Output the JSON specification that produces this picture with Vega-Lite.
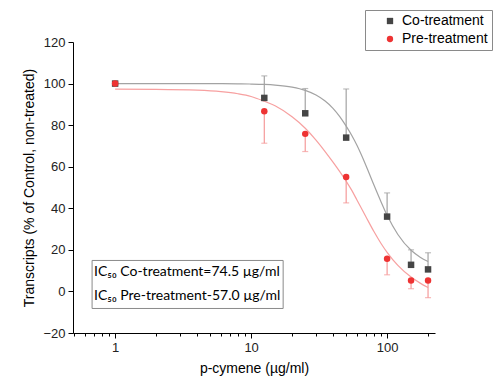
{
  "$schema": "https://vega.github.io/schema/vega-lite/v6.json",
  "width": 362,
  "height": 291,
  "autosize": {"type": "none"},
  "padding": {"left": 73, "top": 42, "right": 66, "bottom": 52},
  "background": "white",
  "config": {
    "view": {"stroke": null},
    "font": "Liberation Sans",
    "axis": {
      "domainColor": "#000000",
      "domainWidth": 1,
      "tickColor": "#000000",
      "tickWidth": 1,
      "grid": false,
      "labelFont": "Liberation Sans",
      "labelFontSize": 13,
      "labelColor": "#222222",
      "titleFont": "Liberation Sans",
      "titleFontSize": 14,
      "titleFontWeight": "normal",
      "titleColor": "#000000"
    }
  },
  "datasets": {
    "fit": [
      {"group": "Co-treatment", "dose": 1, "fit": 100.0},
      {"group": "Co-treatment", "dose": 2, "fit": 100.0},
      {"group": "Co-treatment", "dose": 4, "fit": 99.99},
      {"group": "Co-treatment", "dose": 6, "fit": 99.95},
      {"group": "Co-treatment", "dose": 8, "fit": 99.89},
      {"group": "Co-treatment", "dose": 10, "fit": 99.78},
      {"group": "Co-treatment", "dose": 12.5, "fit": 99.58},
      {"group": "Co-treatment", "dose": 15, "fit": 99.27},
      {"group": "Co-treatment", "dose": 20, "fit": 98.29},
      {"group": "Co-treatment", "dose": 25, "fit": 96.72},
      {"group": "Co-treatment", "dose": 30, "fit": 94.48},
      {"group": "Co-treatment", "dose": 35, "fit": 91.6},
      {"group": "Co-treatment", "dose": 40, "fit": 88.1},
      {"group": "Co-treatment", "dose": 45, "fit": 84.0},
      {"group": "Co-treatment", "dose": 50, "fit": 79.5},
      {"group": "Co-treatment", "dose": 55, "fit": 75.0},
      {"group": "Co-treatment", "dose": 60, "fit": 70.3},
      {"group": "Co-treatment", "dose": 70, "fit": 60.5},
      {"group": "Co-treatment", "dose": 80, "fit": 51.2},
      {"group": "Co-treatment", "dose": 90, "fit": 43.3},
      {"group": "Co-treatment", "dose": 100, "fit": 36.6},
      {"group": "Co-treatment", "dose": 120, "fit": 27.4},
      {"group": "Co-treatment", "dose": 150, "fit": 19.8},
      {"group": "Co-treatment", "dose": 175, "fit": 16.5},
      {"group": "Co-treatment", "dose": 200, "fit": 14.4},
      {"group": "Pre-treatment", "dose": 1, "fit": 97.3},
      {"group": "Pre-treatment", "dose": 2, "fit": 97.2},
      {"group": "Pre-treatment", "dose": 4, "fit": 96.8},
      {"group": "Pre-treatment", "dose": 6, "fit": 96.1},
      {"group": "Pre-treatment", "dose": 8, "fit": 95.1},
      {"group": "Pre-treatment", "dose": 10, "fit": 93.8},
      {"group": "Pre-treatment", "dose": 12.5, "fit": 91.5},
      {"group": "Pre-treatment", "dose": 15, "fit": 89.3},
      {"group": "Pre-treatment", "dose": 20, "fit": 84.0},
      {"group": "Pre-treatment", "dose": 25, "fit": 78.5},
      {"group": "Pre-treatment", "dose": 30, "fit": 72.8},
      {"group": "Pre-treatment", "dose": 35, "fit": 67.3},
      {"group": "Pre-treatment", "dose": 40, "fit": 62.2},
      {"group": "Pre-treatment", "dose": 45, "fit": 57.5},
      {"group": "Pre-treatment", "dose": 50, "fit": 53.0},
      {"group": "Pre-treatment", "dose": 55, "fit": 48.6},
      {"group": "Pre-treatment", "dose": 60, "fit": 44.0},
      {"group": "Pre-treatment", "dose": 70, "fit": 35.8},
      {"group": "Pre-treatment", "dose": 80, "fit": 28.8},
      {"group": "Pre-treatment", "dose": 90, "fit": 23.2},
      {"group": "Pre-treatment", "dose": 100, "fit": 18.8},
      {"group": "Pre-treatment", "dose": 120, "fit": 12.5},
      {"group": "Pre-treatment", "dose": 150, "fit": 6.9},
      {"group": "Pre-treatment", "dose": 175, "fit": 4.0},
      {"group": "Pre-treatment", "dose": 200, "fit": 1.9}
    ],
    "obs": [
      {"group": "Co-treatment", "dose": 1, "mean": 100.0, "err_end": null},
      {"group": "Co-treatment", "dose": 12.5, "mean": 93.1, "err_end": 103.7},
      {"group": "Co-treatment", "dose": 25, "mean": 85.7, "err_end": 97.6},
      {"group": "Co-treatment", "dose": 50, "mean": 74.0, "err_end": 97.4},
      {"group": "Co-treatment", "dose": 100, "mean": 36.0, "err_end": 47.4},
      {"group": "Co-treatment", "dose": 150, "mean": 12.8, "err_end": 20.0},
      {"group": "Co-treatment", "dose": 200, "mean": 10.6, "err_end": 18.6},
      {"group": "Pre-treatment", "dose": 1, "mean": 100.0, "err_end": null},
      {"group": "Pre-treatment", "dose": 12.5, "mean": 86.7, "err_end": 71.3},
      {"group": "Pre-treatment", "dose": 25, "mean": 75.8, "err_end": 67.3},
      {"group": "Pre-treatment", "dose": 50, "mean": 55.1, "err_end": 42.6},
      {"group": "Pre-treatment", "dose": 100, "mean": 15.7, "err_end": 8.0},
      {"group": "Pre-treatment", "dose": 150, "mean": 5.3, "err_end": 1.3},
      {"group": "Pre-treatment", "dose": 200, "mean": 5.3, "err_end": -3.0}
    ]
  },
  "layer": [
    {
      "data": {"name": "fit"},
      "mark": {"type": "line", "strokeWidth": 1.2, "interpolate": "monotone"},
      "encoding": {
        "x": {
          "field": "dose", "type": "quantitative",
          "scale": {"type": "log", "domain": [0.49, 225], "nice": false},
          "axis": {
            "title": "p-cymene (µg/ml)",
            "values": [0.5, 0.6, 0.7, 0.8, 0.9, 1, 2, 3, 4, 5, 6, 7, 8, 9, 10, 20, 30, 40, 50, 60, 70, 80, 90, 100, 200],
            "format": "~g",
            "labelExpr": "datum.value == 1 || datum.value == 10 || datum.value == 100 ? datum.label : ''",
            "labelOverlap": false,
            "labelFlush": false,
            "labelPadding": 3,
            "titlePadding": 7,
            "tickSize": {"condition": {"test": "datum.value == 1 || datum.value == 10 || datum.value == 100", "value": 5}, "value": 3}
          }
        },
        "y": {
          "field": "fit", "type": "quantitative",
          "scale": {"domain": [-20, 120], "nice": false, "zero": false},
          "axis": {
            "title": "Transcripts (% of Control, non-treated)",
            "values": [-20, -10, 0, 10, 20, 30, 40, 50, 60, 70, 80, 90, 100, 110, 120],
            "labelExpr": "datum.value % 20 == 0 ? datum.label : ''",
            "labelOverlap": false,
            "labelFlush": false,
            "labelPadding": 3,
            "titlePadding": 6,
            "tickSize": {"condition": {"test": "datum.value % 20 == 0", "value": 5}, "value": 3}
          }
        },
        "detail": {"field": "group"},
        "stroke": {"condition": {"test": "datum.group == 'Co-treatment'", "value": "#a3a3a3"}, "value": "#f7a0a0"}
      }
    },
    {
      "data": {"name": "obs"},
      "transform": [{"filter": "datum.err_end != null"}],
      "mark": {"type": "rule", "strokeWidth": 1.2},
      "encoding": {
        "x": {"field": "dose", "type": "quantitative"},
        "y": {"field": "mean", "type": "quantitative"},
        "y2": {"field": "err_end"},
        "stroke": {"condition": {"test": "datum.group == 'Co-treatment'", "value": "#a3a3a3"}, "value": "#f59a9a"}
      }
    },
    {
      "data": {"name": "obs"},
      "transform": [{"filter": "datum.err_end != null"}],
      "mark": {"type": "tick", "orient": "horizontal", "size": 6, "thickness": 1.2},
      "encoding": {
        "x": {"field": "dose", "type": "quantitative"},
        "y": {"field": "err_end", "type": "quantitative"},
        "fill": {"condition": {"test": "datum.group == 'Co-treatment'", "value": "#a3a3a3"}, "value": "#f59a9a"}
      }
    },
    {
      "data": {"name": "obs"},
      "mark": {"type": "point", "filled": true, "opacity": 1, "size": 42},
      "encoding": {
        "x": {"field": "dose", "type": "quantitative"},
        "y": {"field": "mean", "type": "quantitative"},
        "color": {
          "field": "group", "type": "nominal",
          "scale": {"domain": ["Co-treatment", "Pre-treatment"], "range": ["#454545", "#ee3333"]},
          "legend": {
            "title": null, "orient": "none", "legendX": 292, "legendY": -32,
            "strokeColor": "#8a8a8a", "fillColor": "#ffffff", "padding": 4,
            "labelFont": "Liberation Sans", "labelFontSize": 14, "labelColor": "#000000",
            "symbolSize": 40, "rowPadding": 4, "symbolOffset": 14, "labelOffset": 5
          }
        },
        "shape": {
          "field": "group", "type": "nominal",
          "scale": {"domain": ["Co-treatment", "Pre-treatment"], "range": ["square", "circle"]}
        }
      }
    },
    {
      "data": {"values": [{}]},
      "mark": {"type": "rect", "fill": "#ffffff", "stroke": "#8a8a8a", "strokeWidth": 1},
      "encoding": {
        "x": {"datum": 0.677, "type": "quantitative"},
        "x2": {"datum": 17.2},
        "y": {"datum": 14.9, "type": "quantitative"},
        "y2": {"datum": -8.2}
      }
    },
    {
      "data": {"values": [{}]},
      "mark": {"type": "text", "align": "left", "baseline": "middle", "font": "Lato", "fontSize": 14, "color": "#000000", "text": "IC₅₀ Co-treatment=74.5 µg/ml"},
      "encoding": {
        "x": {"datum": 0.70, "type": "quantitative"},
        "y": {"datum": 9.3, "type": "quantitative"}
      }
    },
    {
      "data": {"values": [{}]},
      "mark": {"type": "text", "align": "left", "baseline": "middle", "font": "Lato", "fontSize": 14, "color": "#000000", "text": "IC₅₀ Pre-treatment-57.0 µg/ml"},
      "encoding": {
        "x": {"datum": 0.70, "type": "quantitative"},
        "y": {"datum": -2.3, "type": "quantitative"}
      }
    }
  ]
}
